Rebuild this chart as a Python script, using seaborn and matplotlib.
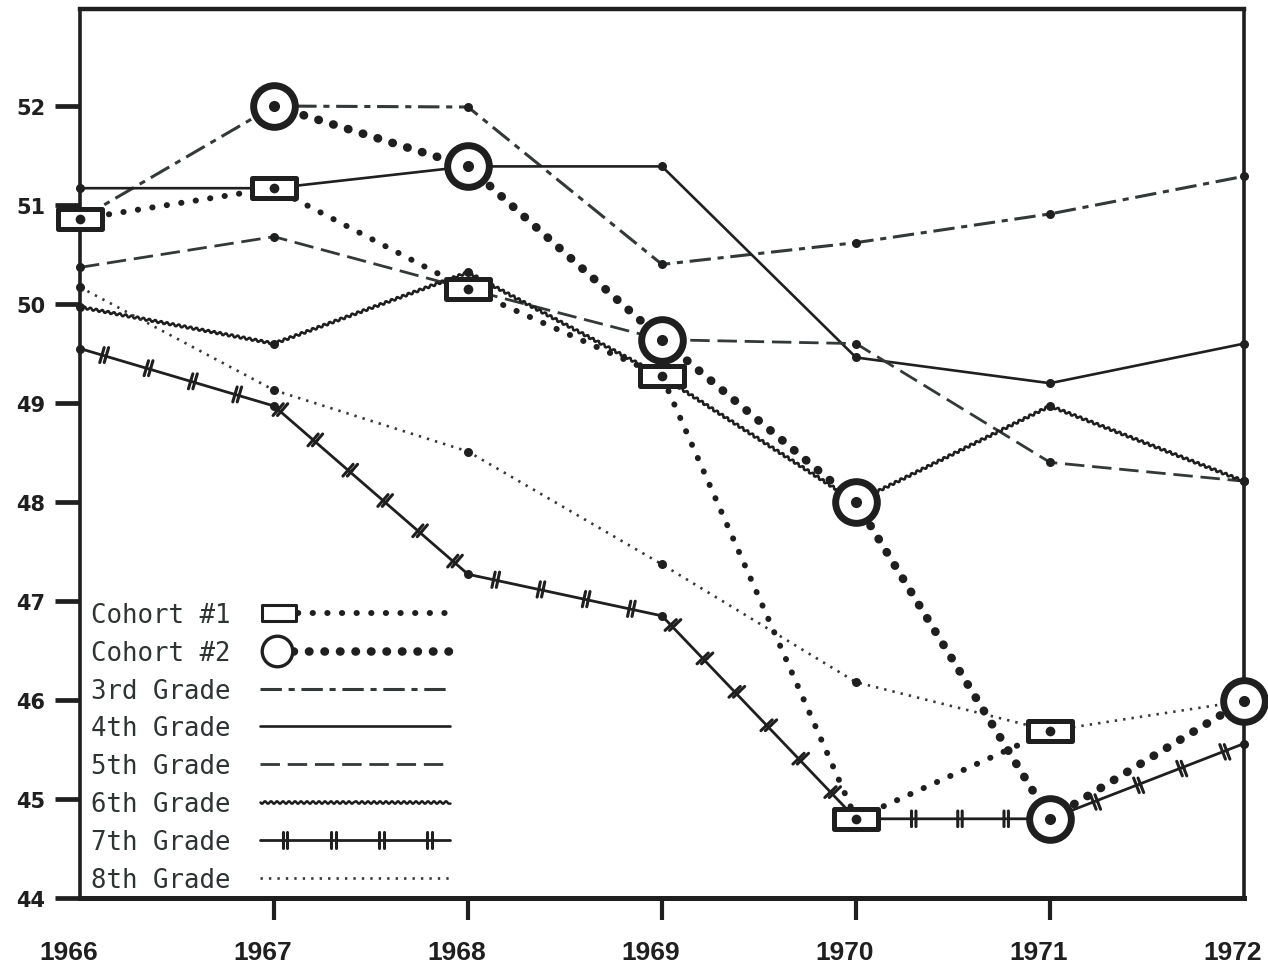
import numpy as np
import pandas as pd
import matplotlib
matplotlib.use("Agg")
import matplotlib.pyplot as plt
import matplotlib.patheffects as pe
import matplotlib.transforms as mtransforms
from matplotlib.lines import Line2D
from matplotlib.legend_handler import HandlerBase
from matplotlib.path import Path
import seaborn as sns

# ---------------- data ----------------
years = [1966, 1967, 1968, 1969, 1970, 1971, 1972]
grade3 = [50.86, 52.00, 51.99, 50.40, 50.62, 50.91, 51.29]
grade4 = [51.17, 51.17, 51.39, 51.39, 49.46, 49.20, 49.60]
grade5 = [50.37, 50.68, 50.15, 49.64, 49.60, 48.40, 48.21]
grade6 = [49.97, 49.60, 50.32, 49.27, 48.00, 48.97, 48.21]
grade7 = [49.55, 48.97, 47.27, 46.85, 44.80, 44.80, 45.56]
grade8 = [50.17, 49.13, 48.51, 47.37, 46.18, 45.69, 45.99]
cohort1_years = [1966, 1967, 1968, 1969, 1970, 1971]
cohort1 = [50.86, 51.17, 50.15, 49.27, 44.80, 45.69]
cohort2_years = [1967, 1968, 1969, 1970, 1971, 1972]
cohort2 = [52.00, 51.39, 49.64, 48.00, 44.80, 45.99]
y_ticks = [44, 45, 46, 47, 48, 49, 50, 51, 52]
labels = ["Cohort #1", "Cohort #2", "3rd Grade", "4th Grade",
          "5th Grade", "6th Grade", "7th Grade", "8th Grade"]

# ---------------- style ----------------
sns.set_style("white")
plt.rcParams["font.family"] = ["DejaVu Sans"]
INK = "#1f1f1f"
GRAY = "#333838"

fig = plt.figure(figsize=(12.68, 9.70), dpi=100)
ax = fig.add_axes([80 / 1268, 71 / 970, 1164 / 1268, 889 / 970])

rect_marker = Path([(-1, -0.46), (1, -0.46), (1, 0.46), (-1, 0.46), (-1, -0.46)],
                   [Path.MOVETO, Path.LINETO, Path.LINETO, Path.LINETO, Path.CLOSEPOLY])

grade_styles = [
    (grade3, dict(color=GRAY, lw=2.2, linestyle=(0, (7, 2.2, 2, 2.2)))),
    (grade4, dict(color=INK, lw=1.9, linestyle="-")),
    (grade5, dict(color=GRAY, lw=2.0, linestyle=(0, (7, 2.8)))),
    (grade6, dict(color=INK, lw=1.8, linestyle="-")),
    (grade7, dict(color=INK, lw=2.0, linestyle="-")),
    (grade8, dict(color=GRAY, lw=1.9, linestyle=(0, (0.9, 2.3)))),
]

grade_lines = []
for vals, st in grade_styles:
    sns.lineplot(x=years, y=vals, ax=ax, zorder=2, **st)
    grade_lines.append(ax.lines[-1])
    # data point dots
    sns.lineplot(x=years, y=vals, ax=ax, color=INK, linestyle="none", marker="o",
                 markersize=6.5, markeredgewidth=0, markeredgecolor=INK, zorder=2.5,
                 clip_on=False)

# 6th grade: wavy line
grade_lines[3].set_sketch_params(1.3, 6, 1)
# 7th grade: hatched line
grade_lines[4].set_path_effects([
    pe.Normal(),
    pe.TickedStroke(spacing=33, angle=90, length=0.17, linewidth=2.2, foreground=INK),
    pe.TickedStroke(spacing=33, angle=-90, length=0.17, linewidth=2.2, foreground=INK),
    pe.TickedStroke(offset=(3.2, 0), spacing=33, angle=90, length=0.17, linewidth=2.2, foreground=INK),
    pe.TickedStroke(offset=(3.2, 0), spacing=33, angle=-90, length=0.17, linewidth=2.2, foreground=INK),
])

# cohorts
sns.lineplot(x=cohort1_years, y=cohort1, ax=ax, color=INK, lw=4.3,
             linestyle=(0, (0.05, 2.4)), dash_capstyle="round", zorder=3,
             marker=rect_marker, markersize=31, markerfacecolor="white",
             markeredgecolor=INK, markeredgewidth=3.6, clip_on=False)
c1_line = ax.lines[-1]
sns.lineplot(x=cohort2_years, y=cohort2, ax=ax, color=INK, lw=6.2,
             linestyle=(0, (0.05, 1.75)), dash_capstyle="round", zorder=3.2,
             marker="o", markersize=30, markerfacecolor="white",
             markeredgecolor=INK, markeredgewidth=5.0, clip_on=False)
c2_line = ax.lines[-1]
# inner dots of cohort markers
sns.lineplot(x=cohort1_years, y=cohort1, ax=ax, color=INK, linestyle="none", marker="o",
             markersize=7, markeredgewidth=0, markeredgecolor=INK, zorder=4, clip_on=False)
sns.lineplot(x=cohort2_years, y=cohort2, ax=ax, color=INK, linestyle="none", marker="o",
             markersize=8, markeredgewidth=0, markeredgecolor=INK, zorder=4, clip_on=False)

# ---------------- axes ----------------
ax.set_xlim(1966, 1972)
ax.set_ylim(44, 52.98)
ax.set_xlabel("")
ax.set_ylabel("")
ax.set_xticks(years)
ax.set_xticklabels([str(y) for y in years], fontfamily="Liberation Sans",
                   fontweight="bold", fontsize=19, color=INK)
ax.set_yticks(y_ticks)
ax.set_yticklabels([str(v) for v in y_ticks], fontfamily="DejaVu Sans",
                   fontweight="bold", fontsize=15, color=INK)
ax.tick_params(axis="x", direction="out", length=16, width=3.0, color=INK, pad=14, bottom=True)
ax.tick_params(axis="y", direction="out", length=18, width=3.4, color=INK, pad=7, left=True)
xt = ax.xaxis.get_major_ticks()
xt[0].tick1line.set_visible(False)
xt[-1].tick1line.set_visible(False)
shift = mtransforms.ScaledTranslation(-0.11, 0, fig.dpi_scale_trans)
for lab in ax.get_xticklabels():
    lab.set_transform(lab.get_transform() + shift)
for side, w in (("left", 2.6), ("right", 2.6), ("top", 3.2), ("bottom", 3.6)):
    ax.spines[side].set_linewidth(w)
    ax.spines[side].set_color(INK)
ax.grid(False)


# ---------------- legend ----------------
class CohortHandler(HandlerBase):
    def __init__(self, ms, mew, **kw):
        super().__init__(**kw)
        self.ms = ms
        self.mew = mew

    def create_artists(self, legend, orig_handle, xdescent, ydescent,
                       width, height, fontsize, trans):
        y = (height - ydescent) / 2
        x0 = -xdescent
        line = Line2D([x0 + self.ms + 2, x0 + width], [y, y])
        line.update_from(orig_handle)
        line.set_marker("None")
        mk = Line2D([x0 + self.ms / 2 + 1], [y])
        mk.update_from(orig_handle)
        mk.set_linestyle("None")
        mk.set_markersize(self.ms)
        mk.set_markeredgewidth(self.mew)
        line.set_transform(trans)
        mk.set_transform(trans)
        return [line, mk]


handles = [c1_line, c2_line] + grade_lines
leg = ax.legend(handles, labels, loc="lower left", bbox_to_anchor=(0.0095, 0.006),
                borderaxespad=0, borderpad=0, frameon=False, markerfirst=False,
                handlelength=7.4, handletextpad=1.15, labelspacing=0.46, handleheight=0.7,
                prop=dict(family="DejaVu Sans Mono", size=18.5),
                handler_map={c1_line: CohortHandler(25, 2.2),
                             c2_line: CohortHandler(22, 2.4)})
for t in leg.get_texts():
    t.set_color("#2e3333")
leg.set_zorder(1)

fig.savefig("out.png", dpi=100)
